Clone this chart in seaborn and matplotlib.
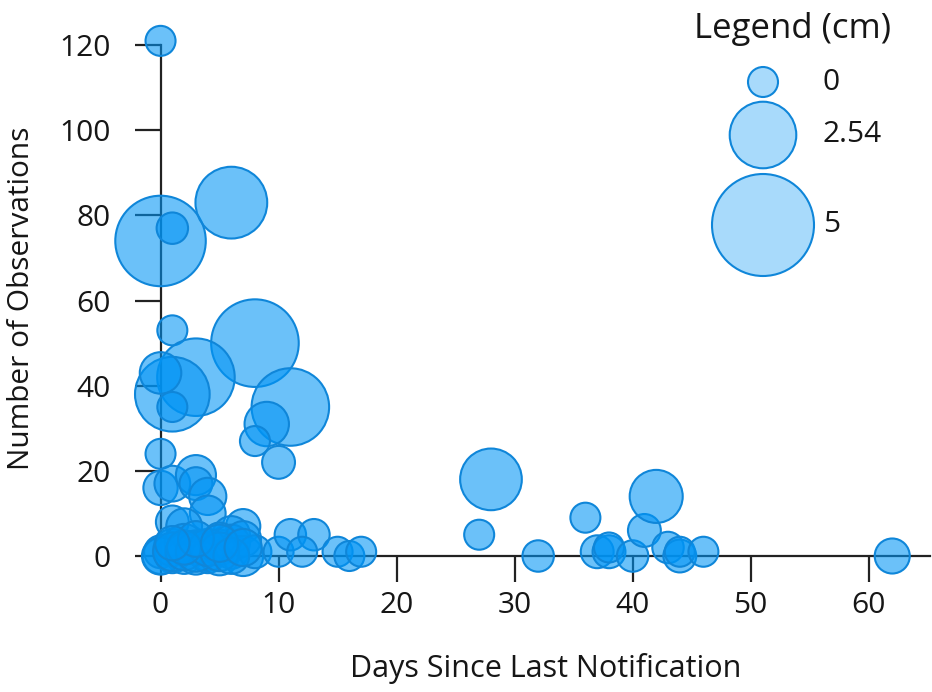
import numpy as np
import pandas as pd
import matplotlib
matplotlib.use("Agg")
import matplotlib.pyplot as plt
import seaborn as sns

# Days since last notification, number of observations and bubble size (cm)
days = [0, 0, 1, 6, 1, 8, 3, 1, 0, 1, 11, 9, 8, 10, 0,
        0, 1, 3, 3, 4, 4, 1, 2, 7, 6, 5,
        0, 0, 1, 1, 2, 2, 3, 3, 4, 4, 5, 5, 6, 6, 7, 7, 8,
        0, 1, 2, 3, 4, 5, 6, 2, 3, 1, 5, 7,
        10, 11, 13, 12, 15, 16, 17,
        28, 27, 32, 36, 37, 38, 38, 40, 41, 42, 43, 44, 44, 46, 62]
observations = [121, 74, 77, 83, 53, 50, 42, 38, 43, 35, 35, 31, 27, 22, 24,
                16, 17, 19, 17, 14, 10, 8, 7, 7, 5, 4,
                0, 1, 0, 2, 0, 3, 0, 2, 1, 0, 0, 2, 1, 3, 0, 4, 1,
                0, 1, 1, 1, 2, 1, 0, 2, 4, 3, 3, 2,
                1, 5, 5, 1, 1, 0, 1,
                18, 5, 0, 9, 1, 1, 2, 0, 6, 14, 2, 0, 1, 1, 0]
size_cm = [0.0, 4.2, 0.1, 2.9, 0.0, 4.0, 3.3, 3.1, 0.8, 0.0, 3.3, 1.0, 0.0, 0.2, 0.0,
           0.3, 0.4, 0.7, 0.2, 0.5, 0.4, 0.2, 0.4, 0.3, 0.5, 0.2,
           0.4, 0.2, 0.3, 0.5, 0.4, 0.6, 0.5, 0.3, 0.6, 0.3, 0.6, 0.4, 0.3, 0.5, 0.7, 0.4, 0.2,
           0.5, 0.6, 0.5, 0.7, 0.5, 0.6, 0.4, 0.3, 0.4, 0.3, 0.5, 0.5,
           0.0, 0.1, 0.1, 0.0, 0.0, 0.0, 0.0,
           2.2, 0.0, 0.1, 0.0, 0.2, 0.2, 0.0, 0.1, 0.2, 1.6, 0.1, 0.2, 0.0, 0.0, 0.35]

legend_values = [0, 2.54, 5]
legend_labels = ["0", "2.54", "5"]
x_ticks = [0, 10, 20, 30, 40, 50, 60]
y_ticks = [0, 20, 40, 60, 80, 100, 120]

DPI = 100


def bubble_area(cm):
    """Marker area (pt^2) for a bubble whose diameter grows linearly with size in cm."""
    diameter_px = 30 + 14.4 * np.asarray(cm, dtype=float)
    return (diameter_px * 72.0 / DPI) ** 2


df = pd.DataFrame({"days": days, "obs": observations, "cm": size_cm})
df["area"] = bubble_area(df["cm"])
a_lo, a_hi = float(bubble_area(0)), float(bubble_area(5))

FONT = ["Open Sans", "DejaVu Sans"]
sns.set_style("white")
plt.rcParams["font.family"] = FONT
TEXT = "#161616"
FILL = (0.0, 0.58, 0.96)
EDGE = "#0f86d9"
AXIS = "#222222"

fig = plt.figure(figsize=(9.32, 6.92), dpi=DPI)
ax = fig.add_axes([140 / 932, 1 - 585 / 692, 790 / 932, 565 / 692])

sns.scatterplot(data=df, x="days", y="obs", size="area",
                sizes=(a_lo, a_hi), size_norm=(a_lo, a_hi),
                legend=False, ax=ax, clip_on=False, zorder=3)
pts = ax.collections[0]
pts.set_facecolor((*FILL, 0.58))
pts.set_edgecolor(EDGE)
pts.set_linewidth(1.5)

# Axes geometry: spines cross at the origin
ax.set_xlim(-1.74, 65.2)
ax.set_ylim(-6.81, 125.9)
for side in ("top", "right"):
    ax.spines[side].set_visible(False)
ax.spines["left"].set_position(("data", 0))
ax.spines["bottom"].set_position(("data", 0))
ax.spines["left"].set_bounds(0, 120)
ax.spines["bottom"].set_bounds(0, 65.2)
for side in ("left", "bottom"):
    ax.spines[side].set_color(AXIS)
    ax.spines[side].set_linewidth(1.6)
    ax.spines[side].set_zorder(2)

ax.set_xticks(x_ticks)
ax.set_yticks(y_ticks)
ax.tick_params(axis="both", which="major", bottom=True, left=True,
               direction="out", length=19, width=1.6,
               color=AXIS, labelsize=21.5, labelcolor=TEXT)
ax.tick_params(axis="x", pad=6)
ax.tick_params(axis="y", pad=17)
ax.set_xlabel("")
ax.set_ylabel("")

fig.text(546 / 932, 1 - 669 / 692, "Days Since Last Notification",
         ha="center", va="center", fontsize=22, color=TEXT)
fig.text(22 / 932, 1 - 298 / 692, "Number of Observations", rotation=90,
         ha="center", va="center", fontsize=21.5, color=TEXT)

# Size key
fig.text(793 / 932, 1 - 29 / 692, "Legend (cm)", ha="center", va="center",
         fontsize=25, color=TEXT)
key_y = [82, 135, 225]
ax.scatter([763 / 932] * 3, [1 - y / 692 for y in key_y],
           s=bubble_area(legend_values), transform=fig.transFigure,
           facecolor=(*FILL, 0.34), edgecolor=EDGE, linewidth=1.5,
           clip_on=False, zorder=4)
for y, lab in zip(key_y, legend_labels):
    fig.text(823 / 932, 1 - y / 692, lab, ha="left", va="center",
             fontsize=21.5, color=TEXT)

fig.savefig("out.png", dpi=DPI)
